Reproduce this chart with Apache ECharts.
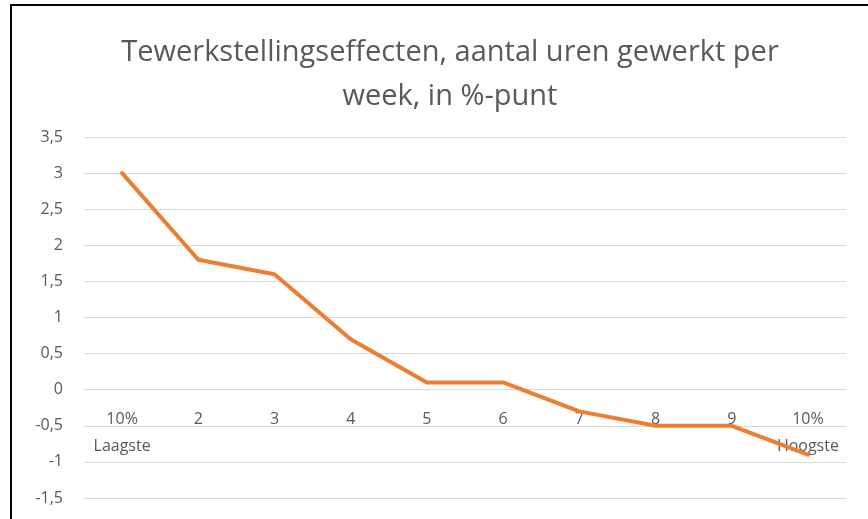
<!DOCTYPE html>
<html lang="nl">
<head>
<meta charset="UTF-8">
<title>Tewerkstellingseffecten</title>
<script src="https://cdn.jsdelivr.net/npm/echarts@6/dist/echarts.min.js"></script>
<style>
  html, body { margin: 0; padding: 0; background: #fff; overflow: hidden; }
  #frame { position: absolute; left: 10px; top: 4px; width: 870px; height: 530px; border: 2px solid #000; box-sizing: border-box; }
  #main { position: absolute; left: 0; top: 0; width: 868px; height: 519px; }
</style>
</head>
<body>
<div id="frame"></div>
<div id="main"></div>
<script type="text/javascript">
// data
var categories = ['10%\nLaagste', '2', '3', '4', '5', '6', '7', '8', '9', '10%\nHoogste'];
var values = [3, 1.8, 1.6, 0.7, 0.1, 0.1, -0.3, -0.5, -0.5, -0.9];
var titleText = 'Tewerkstellingseffecten, aantal uren gewerkt per\nweek, in %-punt';

var chart = echarts.init(document.getElementById('main'), null, { renderer: 'canvas' });
chart.setOption({
  animation: false,
  title: {
    text: titleText,
    left: 445,
    top: 26,
    textAlign: 'center',
    textStyle: {
      fontFamily: 'Open Sans',
      fontWeight: 'normal',
      fontSize: 29,
      color: '#595959',
      lineHeight: 44
    }
  },
  grid: { left: 84, right: 22, top: 137, bottom: 21, outerBoundsMode: 'none', containLabel: false },
  xAxis: {
    type: 'category',
    data: categories,
    boundaryGap: true,
    position: 'bottom',
    offset: -108, // labels sit at the zero line, as in the original
    axisLine: { show: false, onZero: false },
    axisTick: { show: false },
    axisLabel: {
      interval: 0,
      hideOverlap: false,
      margin: 16,
      fontFamily: 'Open Sans',
      fontSize: 16,
      color: '#595959',
      lineHeight: 27,
      verticalAlign: 'top'
    }
  },
  yAxis: {
    type: 'value',
    min: -1.5,
    max: 3.5,
    interval: 0.5,
    axisLine: { show: false },
    axisTick: { show: false },
    splitLine: { lineStyle: { color: '#d9d9d9', width: 1 } },
    axisLabel: {
      margin: 21,
      fontFamily: 'Open Sans',
      fontSize: 16,
      color: '#595959',
      formatter: function (v) { return String(v).replace('.', ','); }
    }
  },
  series: [{
    type: 'line',
    data: values,
    symbol: 'none',
    z: 3,
    lineStyle: { color: '#ED7D31', width: 4, cap: 'round', join: 'round' }
  }]
});
</script>
</body>
</html>
